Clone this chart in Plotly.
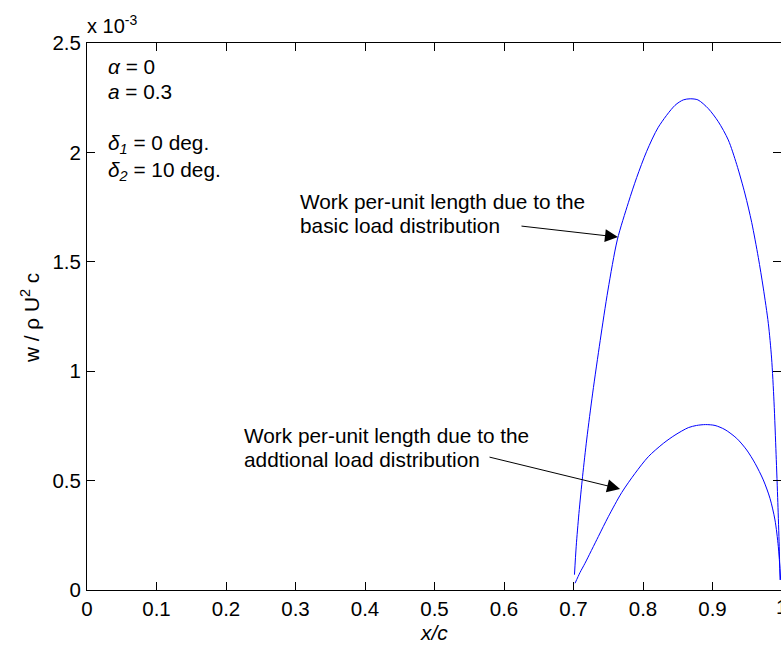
import plotly.graph_objects as go

# ---- data (y in units of 1e-3) ----
basic_x = [0.7014, 0.7039, 0.7078, 0.7131, 0.7191, 0.7276, 0.7384, 0.7496, 0.7630, 0.7789,
           0.7909, 0.8053, 0.8220, 0.8460, 0.858, 0.868, 0.879, 0.894, 0.9084, 0.9227,
           0.9348, 0.9468, 0.9564, 0.9659, 0.9731, 0.9803, 0.9850, 0.9885, 0.9915, 0.9940,
           0.9960, 0.9972]
basic_y = [0.07, 0.20, 0.35, 0.52, 0.69, 0.90, 1.14, 1.371, 1.60, 1.77,
           1.885, 2.005, 2.115, 2.215, 2.240, 2.245, 2.240, 2.200, 2.140, 2.057,
           1.945, 1.810, 1.680, 1.520, 1.380, 1.219, 1.060, 0.860, 0.620, 0.400,
           0.200, 0.046]

addl_x = [0.7022, 0.7094, 0.7165, 0.7357, 0.7501, 0.7693, 0.7885, 0.8076, 0.8292, 0.8460,
          0.8652, 0.877, 0.890, 0.9036, 0.918, 0.9348, 0.9492, 0.9612, 0.9731, 0.9827,
          0.9899, 0.9947, 0.9981]
addl_y = [0.031, 0.080, 0.122, 0.244, 0.335, 0.445, 0.533, 0.609, 0.670, 0.708,
          0.742, 0.752, 0.756, 0.752, 0.733, 0.693, 0.640, 0.579, 0.503, 0.419,
          0.320, 0.198, 0.046]

x_ticks = [0, 0.1, 0.2, 0.3, 0.4, 0.5, 0.6, 0.7, 0.8, 0.9]
x_ticklabels = ["0", "0.1", "0.2", "0.3", "0.4", "0.5", "0.6", "0.7", "0.8", "0.9"]
y_ticks = [0, 0.5, 1, 1.5, 2, 2.5]
y_ticklabels = ["0", "0.5", "1", "1.5", "2", "2.5"]

# ---- layout geometry ----
W, H = 781, 645
L, T = 87, 43
B = H - 590
PW = W - L           # plot width in px
PH = 590 - T         # plot height in px
XMAX = PW / 695.0    # x=1 sits just past the right edge

FONT = "Liberation Sans, Arial, Helvetica, sans-serif"
TXT = 20.8
TICK = 20.5

def px(xp):
    return (xp - L) / PW

def py(yp):
    return (590 - yp) / PH

fig = go.Figure()
for xs, ys in [(basic_x, basic_y), (addl_x, addl_y)]:
    fig.add_trace(go.Scatter(x=xs, y=ys, mode="lines",
                             line=dict(color="#0000ff", width=1, shape="spline", smoothing=0.8),
                             showlegend=False, hoverinfo="skip"))

ann = []
def text(xp, yp, s, size=TXT, xanchor="left", **kw):
    ann.append(dict(x=px(xp), y=py(yp), xref="paper", yref="paper", text=s, showarrow=False,
                    xanchor=xanchor, yanchor="middle", align="left",
                    font=dict(family=FONT, size=size, color="black"), **kw))

text(298, 201, "Work per-unit length due to the")
text(298, 225, "basic load distribution")
text(242, 435, "Work per-unit length due to the")
text(242, 459, "addtional load distribution")

text(106, 67, "<i>α</i> = 0")
text(106, 91, "<i>a</i> = 0.3")
text(106, 144, "<i>δ</i><sub><i>1</i></sub> = 0 deg.")
text(106, 171, "<i>δ</i><sub><i>2</i></sub> = 10 deg.")

text(85, 24, "x 10<sup>-3</sup>", size=20)
text(434, 632, "<i>x/c</i>", size=TXT, xanchor="center")
text(30, 318, "w / ρ U<sup>2</sup> c", size=TXT, xanchor="center", textangle=-90)
text(782, 606, "1", size=TICK, xanchor="center")

# arrows
for (hx, hy, tx, ty) in [(0.764, 1.613, 0.623, 1.664), (0.767, 0.462, 0.577, 0.609)]:
    ann.append(dict(x=hx, y=hy, ax=tx, ay=ty, xref="x", yref="y", axref="x", ayref="y",
                    text="", showarrow=True, arrowhead=2, arrowsize=2.6, arrowwidth=1,
                    arrowcolor="black"))

fig.update_layout(
    width=W, height=H,
    margin=dict(l=L, r=0, t=T, b=B, pad=0),
    paper_bgcolor="white", plot_bgcolor="white",
    annotations=ann,
    xaxis=dict(range=[0, XMAX], tickvals=x_ticks, ticktext=x_ticklabels,
               ticks="inside", ticklen=8, tickcolor="black", tickwidth=1,
               showline=True, linecolor="black", linewidth=1, mirror="ticks",
               showgrid=False, zeroline=False,
               tickfont=dict(family=FONT, size=TICK, color="black")),
    yaxis=dict(range=[0, 2.5], tickvals=y_ticks, ticktext=y_ticklabels,
               ticks="inside", ticklen=8, tickcolor="black", tickwidth=1,
               showline=True, linecolor="black", linewidth=1, mirror="ticks",
               showgrid=False, zeroline=False, ticklabelstandoff=1,
               tickfont=dict(family=FONT, size=TICK, color="black")),
)

fig.write_html("out.html")
